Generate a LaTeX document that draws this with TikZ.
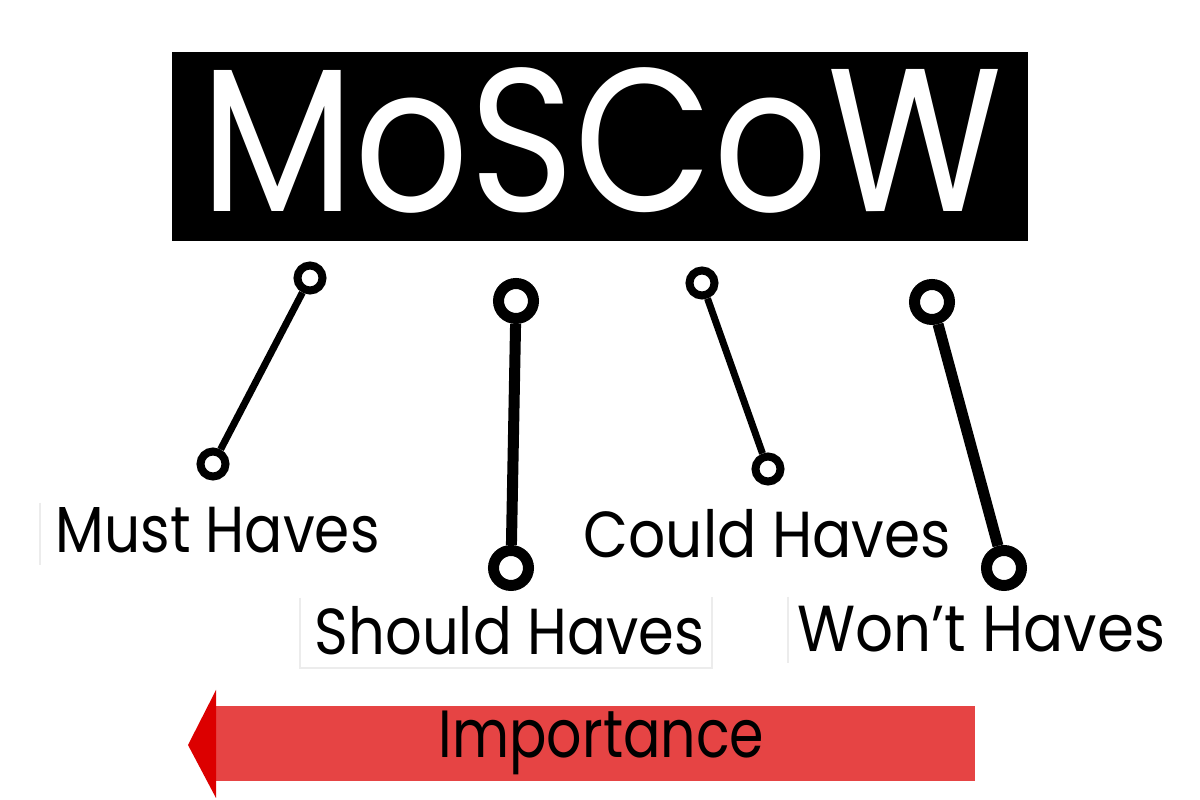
\documentclass[tikz,border=0pt]{standalone}
\usepackage{fontspec}
\setmainfont{Poppins}
\usepackage{graphicx}
\usetikzlibrary{calc}
\definecolor{ink}{HTML}{000000}
\definecolor{barred}{HTML}{E64444}
\definecolor{tipred}{HTML}{DC0000}
\definecolor{faint}{HTML}{ECECEC}
\newcommand{\narrow}[2][0.87]{\scalebox{#1}[1]{#2}}
\tikzset{
  ring/.style={circle, draw=ink, fill=white, inner sep=0pt, line width=0.08cm, minimum size=0.25cm},
  bigring/.style={ring, line width=0.11cm, minimum size=0.35cm},
  stick/.style={draw=ink, line width=0.07cm},
  bigstick/.style={draw=ink, line width=0.11cm},
  lbl/.style={text=ink, inner sep=0pt, anchor=base west, font=\fontsize{18.5}{20}\selectfont},
  edge/.style={draw=faint, line width=0.6pt}
}

\begin{document}
\begin{tikzpicture}[y=-1cm]
  \useasboundingbox[fill=white] (0,0) rectangle (12,8);

  % title block
  \fill[ink] (1.72,0.52) rectangle (10.28,2.41);
  \node[text=white, inner sep=0pt, anchor=base, font=\fontsize{58}{60}\selectfont] (title) at (6.015,2.12) {\narrow[0.88]{MoSCoW}};

  % rings
  \node[ring] (must top) at (3.10,2.78) {};
  \node[ring] (must end) at (2.13,4.64) {};
  \node[bigring] (should top) at (5.16,3.01) {};
  \node[bigring] (should end) at (5.11,5.68) {};
  \node[ring] (could top) at (7.02,2.83) {};
  \node[ring] (could end) at (7.68,4.69) {};
  \node[bigring] (wont top) at (9.32,3.02) {};
  \node[bigring] (wont end) at (10.04,5.68) {};

  \draw[stick] (must top) -- (must end);
  \draw[bigstick] (should top) -- (should end);
  \draw[stick] (could top) -- (could end);
  \draw[bigstick] (wont top) -- (wont end);

  % faint box edges
  \draw[edge] (0.40,5.03) -- (0.40,5.65);
  \draw[edge] (3.00,5.98) -- (3.00,6.68) -- (7.12,6.68) -- (7.12,5.97);
  \draw[edge] (7.88,5.97) -- (7.88,6.63);

  % labels
  \node[lbl] (must) at (0.55,5.53) {\narrow{Must Haves}};
  \node[lbl] (should) at (3.14,6.55) {\narrow[0.885]{Should Haves}};
  \node[lbl] (could) at (5.83,5.58) {\narrow[0.895]{Could Haves}};
  \node[lbl] (wont) at (7.97,6.52) {\narrow[0.915]{Won’t Haves}};

  % importance arrow
  \fill[barred] (2.16,7.06) rectangle (9.75,7.81);
  \fill[tipred] (1.88,7.45) -- (2.16,6.90) -- (2.16,7.98) -- cycle;
  \node[text=ink, inner sep=0pt, anchor=base, font=\fontsize{19}{21}\selectfont] (imp) at (6.015,7.58) {\narrow[0.83]{Importance}};
\end{tikzpicture}
\end{document}
